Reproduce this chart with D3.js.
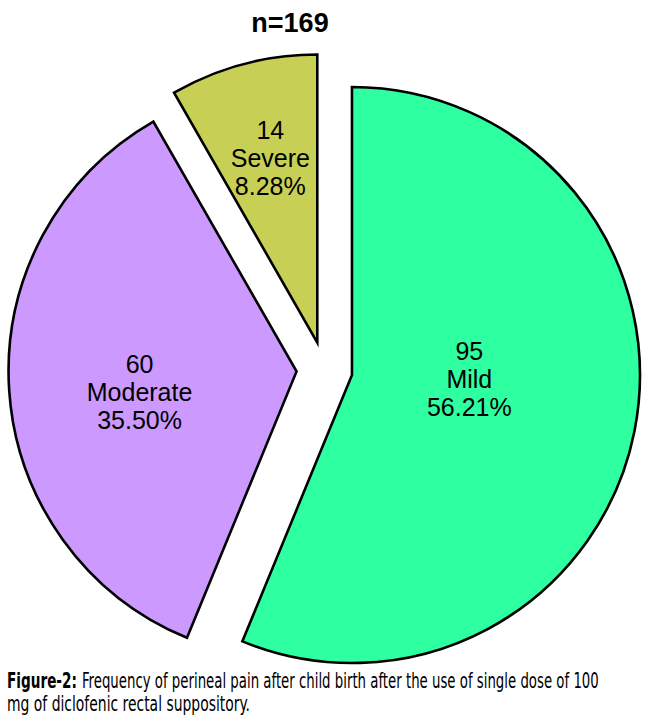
<!DOCTYPE html>
<html>
<head>
<meta charset="utf-8">
<script src="https://cdn.jsdelivr.net/npm/d3@7/dist/d3.min.js"></script>
<style>
  body { margin: 0; background: #fff; }
  svg { display: block; }
</style>
</head>
<body>
<svg id="chart" width="650" height="726"></svg>
<script>
// ---- data ----
const categories = ["Mild", "Moderate", "Severe"];
const counts = [95, 60, 14];
const percents = ["56.21%", "35.50%", "8.28%"];
const title = "n=169";
const captionBold = "Figure-2:";
const captionLine1 = "Frequency of perineal pain after child birth after the use of single dose of 100";
const captionLine2 = "mg of diclofenic rectal suppository.";

// ---- style / layout ----
const colors = ["#2effa0", "#cc99ff", "#c8cf55"];
const cx = 324.5, cy = 369.6, R = 288, explode = 28;
// label placement relative to each slice's own centre: [radius fraction, angle shift (deg)]
const labelPlace = [[0.41, -4.9], [0.555, -7.1], [0.63, -0.1]];

const svg = d3.select("#chart");
const data = categories.map((c, i) => ({ cat: c, n: counts[i], pct: percents[i], i }));

const pie = d3.pie().value(d => d.n).sort(null).startAngle(0).endAngle(2 * Math.PI);
const arcs = pie(data);
const arc = d3.arc().innerRadius(0).outerRadius(R);

const g = svg.append("g").attr("transform", `translate(${cx},${cy})`);

const slices = g.selectAll("g.slice").data(arcs).enter().append("g")
  .attr("class", "slice")
  .attr("transform", d => {
    const a = (d.startAngle + d.endAngle) / 2;
    return `translate(${Math.sin(a) * explode},${-Math.cos(a) * explode})`;
  });

slices.append("path")
  .attr("d", arc)
  .attr("fill", d => colors[d.data.i])
  .attr("stroke", "#000")
  .attr("stroke-width", 2.6)
  .attr("stroke-linejoin", "miter");

slices.each(function(d) {
  const [rf, shift] = labelPlace[d.data.i];
  const a = (d.startAngle + d.endAngle) / 2 + shift * Math.PI / 180;
  const x = Math.sin(a) * R * rf, y = -Math.cos(a) * R * rf;
  const t = d3.select(this).append("text")
    .attr("text-anchor", "middle")
    .attr("font-family", "Arial, 'Liberation Sans', sans-serif")
    .attr("font-size", 25)
    .attr("fill", "#000");
  [String(d.data.n), d.data.cat, d.data.pct].forEach((s, k) => {
    t.append("tspan").attr("x", x).attr("y", y + (k - 1) * 28).text(s);
  });
});

// title
svg.append("text")
  .attr("x", 290).attr("y", 32)
  .attr("text-anchor", "middle")
  .attr("font-family", "Arial, 'Liberation Sans', sans-serif")
  .attr("font-weight", "bold")
  .attr("font-size", 27)
  .text(title);

// caption (condensed: horizontally scaled to the reference widths)
const capFont = "'Liberation Sans Narrow', 'DejaVu Sans Condensed', sans-serif";
function capText(x, y, len, txt, bold) {
  const t = svg.append("text")
    .attr("font-family", capFont)
    .attr("font-size", 21)
    .attr("font-weight", bold ? "bold" : "normal")
    .text(txt);
  const w = t.node().getComputedTextLength();
  t.attr("transform", `translate(${x},${y}) scale(${len / w},1)`);
}
capText(7, 688, 70, captionBold, true);
capText(82, 688, 517, captionLine1, false);
capText(7, 711, 243, captionLine2, false);
</script>
</body>
</html>
